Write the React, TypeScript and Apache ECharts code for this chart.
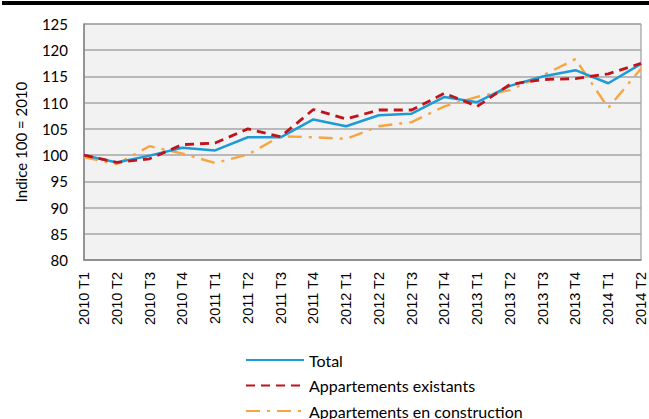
import React, { useEffect, useRef } from "react";
import * as echarts from "echarts";

const categories = [
  "2010 T1", "2010 T2", "2010 T3", "2010 T4",
  "2011 T1", "2011 T2", "2011 T3", "2011 T4",
  "2012 T1", "2012 T2", "2012 T3", "2012 T4",
  "2013 T1", "2013 T2", "2013 T3", "2013 T4",
  "2014 T1", "2014 T2",
];

const total = [100, 98.6, 99.9, 101.4, 100.9, 103.4, 103.4, 106.8, 105.5, 107.6, 107.9, 111.1, 110.1, 113.2, 115.0, 116.2, 113.7, 117.4];
const existants = [100, 98.6, 99.3, 102.0, 102.3, 105.0, 103.5, 108.7, 106.9, 108.6, 108.6, 111.8, 109.3, 113.5, 114.4, 114.6, 115.5, 117.5];
const construction = [99.6, 98.3, 101.7, 100.3, 98.5, 100.1, 103.6, 103.4, 103.1, 105.5, 106.3, 109.3, 111.1, 112.4, 115.2, 118.3, 109.0, 116.5];

const seriesNames = ["Total", "Appartements existants", "Appartements en construction"];
const yTitle = "Indice 100 = 2010";

export default function App() {
  const ref = useRef<HTMLDivElement>(null);
  useEffect(() => {
    if (!ref.current) return;
    const chart = echarts.init(ref.current, null, { renderer: "svg" });
    chart.setOption({
      animation: false,
      backgroundColor: "#ffffff",
      graphic: [
        { type: "rect", shape: { x: 2, y: 1, width: 647, height: 4 }, style: { fill: "#000000" } },
      ],
      grid: {
        left: 84,
        right: 8,
        top: 24,
        bottom: 159,
        show: true,
        backgroundColor: "#f2f2f2",
        borderColor: "#8c8c8c",
        borderWidth: 1,
      },
      legend: {
        orient: "vertical",
        left: 245,
        top: 352,
        padding: 0,
        width: 400,
        height: 90,
        itemWidth: 58,
        itemHeight: 14,
        itemGap: 9.5,
        itemStyle: { opacity: 0 },
        textStyle: { fontFamily: "Lato", fontSize: 16, color: "#000" },
        data: seriesNames,
      },
      xAxis: {
        type: "category",
        data: categories,
        boundaryGap: false,
        axisLine: { show: true, lineStyle: { color: "#868686", width: 1.5 } },
        axisTick: { show: false },
        axisLabel: {
          rotate: 90,
          margin: 12,
          interval: 0,
          fontFamily: "Liberation Sans",
          fontSize: 14.5,
          color: "#000",
        },
      },
      yAxis: {
        type: "value",
        min: 80,
        max: 125,
        interval: 5,
        name: yTitle,
        nameLocation: "middle",
        nameGap: 56,
        nameTextStyle: { fontFamily: "Lato", fontSize: 15, color: "#000" },
        axisLine: { show: true, lineStyle: { color: "#868686", width: 1.5 } },
        axisTick: { show: false },
        axisLabel: { margin: 16, fontFamily: "Lato", fontSize: 15, color: "#000" },
        splitLine: { show: true, lineStyle: { color: "#a6a6a6", width: 1.5 } },
      },
      series: [
        {
          name: seriesNames[0],
          type: "line",
          data: total,
          symbol: "none",
          color: "#1e9ad6",
          lineStyle: { color: "#1e9ad6", width: 2.5 },
          z: 3,
        },
        {
          name: seriesNames[1],
          type: "line",
          data: existants,
          symbol: "none",
          color: "#c0141c",
          lineStyle: { color: "#c0141c", width: 2.8, type: [9, 6] },
          z: 4,
        },
        {
          name: seriesNames[2],
          type: "line",
          data: construction,
          symbol: "none",
          color: "#f7a540",
          lineStyle: { color: "#f7a540", width: 2.4, type: [14, 7, 3, 7] },
          z: 2,
        },
      ],
    });
    return () => chart.dispose();
  }, []);
  return (
    <div
      ref={ref}
      style={{ position: "fixed", left: 0, top: 0, width: 649, height: 419 }}
    />
  );
}
